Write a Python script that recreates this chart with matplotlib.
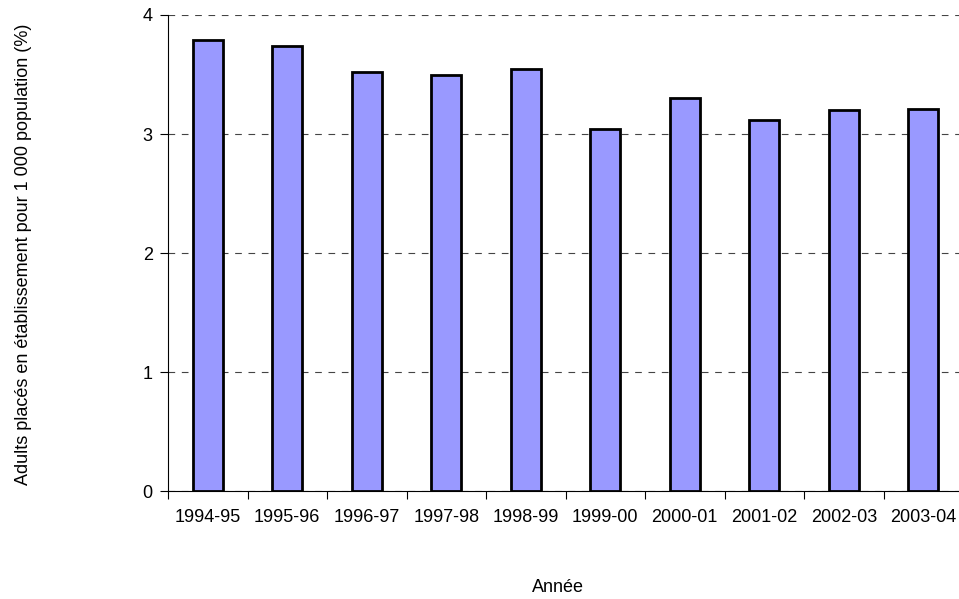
import matplotlib
matplotlib.use('Agg')
import matplotlib.pyplot as plt
import numpy as np

# Adultes placés en établissement pour 1 000 habitants, par année
annees = ['1994-95', '1995-96', '1996-97', '1997-98', '1998-99',
          '1999-00', '2000-01', '2001-02', '2002-03', '2003-04']
taux = [3.79, 3.74, 3.52, 3.50, 3.55, 3.04, 3.30, 3.12, 3.20, 3.21]

plt.rcParams['font.family'] = ['Liberation Sans', 'DejaVu Sans']

fig = plt.figure(figsize=(9.59, 5.99), dpi=100)
# l'axe déborde légèrement à droite, comme dans l'export d'origine
ax = fig.add_axes([0.1752, 0.180, 0.829, 0.795])

x = np.arange(len(annees))
ax.bar(x, taux, width=0.38, color='#9999FF', edgecolor='black', linewidth=2, zorder=3)

ax.set_xlim(-0.5, len(annees) - 0.5)
ax.set_ylim(0, 4)
ax.set_yticks([0, 1, 2, 3, 4])
ax.set_xticks(x)
ax.set_xticklabels(annees, fontsize=13)
ax.tick_params(axis='x', length=0, pad=13)
ax.set_xticks(np.arange(-0.5, len(annees)), minor=True)
ax.tick_params(axis='x', which='minor', length=6, width=0.8)
ax.tick_params(axis='y', labelsize=13, length=6, width=0.8, pad=5)

# Quadrillage horizontal en tirets
ax.yaxis.grid(True, linestyle=(0, (6, 6)), color='#444444', linewidth=0.8, zorder=0)

for s in ['top', 'right']:
    ax.spines[s].set_visible(False)
ax.spines['left'].set_linewidth(0.8)
ax.spines['bottom'].set_linewidth(0.8)

fig.text(0.582, 0.02, 'Année', fontsize=13, ha='center', va='center')
fig.text(0.025, 0.576, 'Adults placés en établissement pour 1 000 population (%)',
         rotation=90, fontsize=13, ha='center', va='center')

fig.savefig('out.png', dpi=100)
